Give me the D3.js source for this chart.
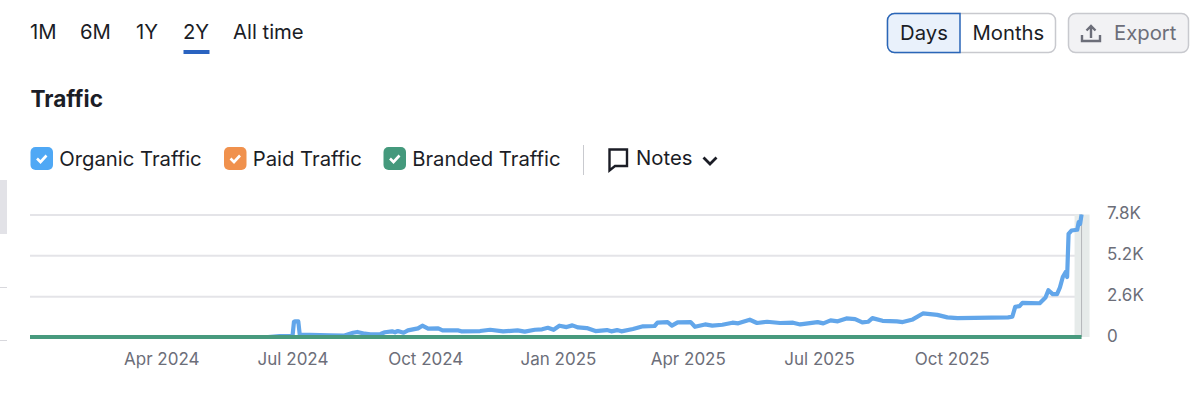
<!DOCTYPE html>
<html>
<head>
<meta charset="utf-8">
<script src="https://cdn.jsdelivr.net/npm/d3@7"></script>
<style>
	html, body { margin: 0; padding: 0; background: #fff; }
	svg { display: block; }
	text { font-family: Inter, "Noto Sans", sans-serif; }
	.axis .domain { display: none; }
	.axis text { fill: #6c6e79; font-size: 17px; }
	.grid line { stroke: #e4e4e8; stroke-width: 2; }
	.grid .domain { display: none; }
</style>
</head>
<body>
<script>
// values
var startDate = new Date(2024, 0, 1);

var organicDays = [0, 165, 173, 180, 182, 183, 184, 186, 187, 194, 208, 218, 224, 227, 232, 236, 243, 246, 251, 253, 255,
	259, 262, 269, 272, 276, 283, 286, 297, 299, 312, 319, 328, 338, 343, 350, 355, 359, 363, 367, 372,
	376, 380, 386, 392, 400, 403, 407, 410, 418, 425, 433, 435, 442, 445, 449, 458, 461, 468, 473, 480,
	487, 491, 499, 504, 511, 520, 529, 534, 546, 550, 555, 560, 566, 572, 577, 581, 584, 591, 601, 605,
	612, 619, 629, 636, 643, 678, 681, 683, 686, 688, 700, 704, 706, 709, 712, 714, 716, 718, 719, 720,
	722, 726, 727, 728, 729];
var organicValues = [0, 0, 60, 60, 60, 970, 1000, 990, 150, 130, 100, 90, 270, 320, 210, 170, 190, 300, 360, 300, 380,
	270, 420, 550, 720, 530, 550, 420, 420, 360, 380, 460, 360, 420, 340, 460, 490, 590, 460, 720, 630,
	740, 610, 570, 380, 440, 360, 440, 360, 507, 680, 700, 910, 950, 720, 930, 950, 650, 800, 720, 780,
	910, 870, 1100, 890, 970, 890, 910, 800, 950, 870, 1060, 1000, 1180, 1140, 930, 970, 1200, 1030, 990, 950,
	1120, 1500, 1410, 1250, 1200, 1250, 1290, 1920, 1970, 2170, 2150, 2520, 2980, 2730, 2730, 3150, 3820, 4140, 3820, 6570,
	6780, 6830, 7310, 7200, 7800];
var brandedDays = [0, 729];
var brandedValues = [0, 0];

var xTicks = [new Date(2024, 3, 1), new Date(2024, 6, 1), new Date(2024, 9, 1), new Date(2025, 0, 1),
	new Date(2025, 3, 1), new Date(2025, 6, 1), new Date(2025, 9, 1)];
var xTickLabels = ["Apr 2024", "Jul 2024", "Oct 2024", "Jan 2025", "Apr 2025", "Jul 2025", "Oct 2025"];
var yTicks = [0, 2600, 5200, 7800];
var yTickLabels = ["0", "2.6K", "5.2K", "7.8K"];
var periods = ["1M", "6M", "1Y", "2Y", "All time"];
var legendNames = ["Organic Traffic", "Paid Traffic", "Branded Traffic"];

var width = 1200, height = 396;
var ink = "#1b1d26";
var labelSize = 20.3;

var svg = d3.select("body").append("svg")
	.attr("width", width)
	.attr("height", height);

// bits of the neighbouring panel cut off at the left edge
svg.append("rect").attr("x", 0).attr("y", 180).attr("width", 7).attr("height", 54).attr("fill", "#e2e2e7");
svg.append("rect").attr("x", 0).attr("y", 287).attr("width", 7).attr("height", 1).attr("fill", "#d8d8dd");
svg.append("rect").attr("x", 0).attr("y", 340).attr("width", 7).attr("height", 1).attr("fill", "#d8d8dd");

// period tabs
var periodX = [30, 80, 136, 183, 233];
svg.selectAll(".period")
	.data(periods)
	.enter().append("text")
	.attr("class", "period")
	.attr("x", function(d, i) { return periodX[i]; })
	.attr("y", 39)
	.attr("font-size", labelSize)
	.attr("fill", ink)
	.text(function(d) { return d; });

svg.append("rect") // active tab
	.attr("x", 183.5).attr("y", 50).attr("width", 26).attr("height", 4)
	.attr("fill", "#2a63c0");

// title
svg.append("text")
	.attr("x", 30.5).attr("y", 107)
	.attr("font-size", 22.6).attr("font-weight", 700)
	.attr("fill", ink)
	.text("Traffic");

// days / months toggle
svg.append("rect")
	.attr("x", 887.5).attr("y", 13.5).attr("width", 168).attr("height", 39).attr("rx", 7)
	.attr("fill", "#fff").attr("stroke", "#c8c9ce").attr("stroke-width", 1.5);
svg.append("path")
	.attr("d", "M960 13.5H894.5a7 7 0 0 0 -7 7V45.5a7 7 0 0 0 7 7H960Z")
	.attr("fill", "#e9f1fb").attr("stroke", "#2a66b8").attr("stroke-width", 1.5);
svg.append("text").attr("x", 900).attr("y", 40).attr("font-size", labelSize).attr("fill", ink).text("Days");
svg.append("text").attr("x", 972.5).attr("y", 40).attr("font-size", labelSize).attr("fill", ink).text("Months");

// export button
svg.append("rect")
	.attr("x", 1068.5).attr("y", 13.5).attr("width", 120).attr("height", 39).attr("rx", 7)
	.attr("fill", "#f2f2f4").attr("stroke", "#c8c9ce").attr("stroke-width", 1.5);
svg.append("path")
	.attr("d", "M1091 38V27M1086.5 30.5L1091 26L1095.5 30.5M1082 35V41H1100V35")
	.attr("fill", "none").attr("stroke", "#6c6e79").attr("stroke-width", 2.4);
svg.append("text").attr("x", 1114).attr("y", 40).attr("font-size", labelSize).attr("fill", "#6c6e79").text("Export");

// legend
var legendColors = ["#4fa8f5", "#f0914d", "#44997c"];
var legendX = [30.5, 224, 383.5];
var legend = svg.selectAll(".legend")
	.data(legendNames)
	.enter().append("g")
	.attr("class", "legend")
	.attr("transform", function(d, i) { return "translate(" + legendX[i] + ",147)"; });

legend.append("rect")
	.attr("width", 22.5).attr("height", 23).attr("rx", 5)
	.attr("fill", function(d, i) { return legendColors[i]; });
legend.append("path")
	.attr("d", "M6.5 11.5L10 15L16 8.5")
	.attr("fill", "none").attr("stroke", "#fff").attr("stroke-width", 2.6);
legend.append("text")
	.attr("x", 28.7).attr("y", 19)
	.attr("font-size", labelSize)
	.attr("fill", ink)
	.text(function(d) { return d; });

svg.append("rect").attr("x", 583).attr("y", 145).attr("width", 1).attr("height", 30).attr("fill", "#c9cacf");

// notes
svg.append("path")
	.attr("d", "M609.5 149.5H627V166H615L609.5 170.5Z")
	.attr("fill", "none").attr("stroke", ink).attr("stroke-width", 2.4);
svg.append("text").attr("x", 636).attr("y", 165).attr("font-size", labelSize).attr("fill", ink).text("Notes");
svg.append("path")
	.attr("d", "M703.5 157.5L710 164L716.5 157.5")
	.attr("fill", "none").attr("stroke", ink).attr("stroke-width", 2.8);

// scales
var x = d3.scaleTime()
	.domain([startDate, d3.timeDay.offset(startDate, 730)])
	.range([30, 1083]);

var y = d3.scaleLinear()
	.domain([0, 7800])
	.range([337, 214.5]);

// grid lines
svg.append("g")
	.attr("class", "grid")
	.attr("transform", "translate(30,0)")
	.call(d3.axisRight(y).tickValues(yTicks.slice(1)).tickSize(1053).tickFormat(""));

// highlighted last day
var lastDay = d3.timeDay.offset(startDate, 729);
svg.append("rect")
	.attr("x", x(lastDay) - 7)
	.attr("y", y(7800))
	.attr("width", 15)
	.attr("height", y(0) - y(7800))
	.attr("fill", "#e6ebea");
svg.append("line")
	.attr("x1", x(lastDay)).attr("x2", x(lastDay))
	.attr("y1", y(7800)).attr("y2", y(0))
	.attr("stroke", "#b4b7ba").attr("stroke-width", 1);

// axis labels
svg.append("g")
	.attr("class", "axis")
	.attr("transform", "translate(0,337)")
	.call(d3.axisBottom(x).tickValues(xTicks).tickSize(0).tickPadding(16)
		.tickFormat(function(d, i) { return xTickLabels[i]; }));

svg.append("g")
	.attr("class", "axis")
	.attr("transform", "translate(1107,-1)")
	.call(d3.axisRight(y).tickValues(yTicks).tickSize(0).tickPadding(0)
		.tickFormat(function(d, i) { return yTickLabels[i]; }));

// lines
var line = d3.line()
	.x(function(d) { return x(d3.timeDay.offset(startDate, d[0])); })
	.y(function(d) { return y(d[1]); })
	.curve(d3.curveLinear);

svg.append("path")
	.datum(d3.zip(organicDays, organicValues))
	.attr("d", line)
	.attr("fill", "none")
	.attr("stroke", "#62a6ea")
	.attr("stroke-width", 4.2)
	.attr("stroke-linejoin", "round");

svg.append("path")
	.datum(d3.zip(brandedDays, brandedValues))
	.attr("d", line)
	.attr("fill", "none")
	.attr("stroke", "#489a7e")
	.attr("stroke-width", 4);
</script>
</body>
</html>
